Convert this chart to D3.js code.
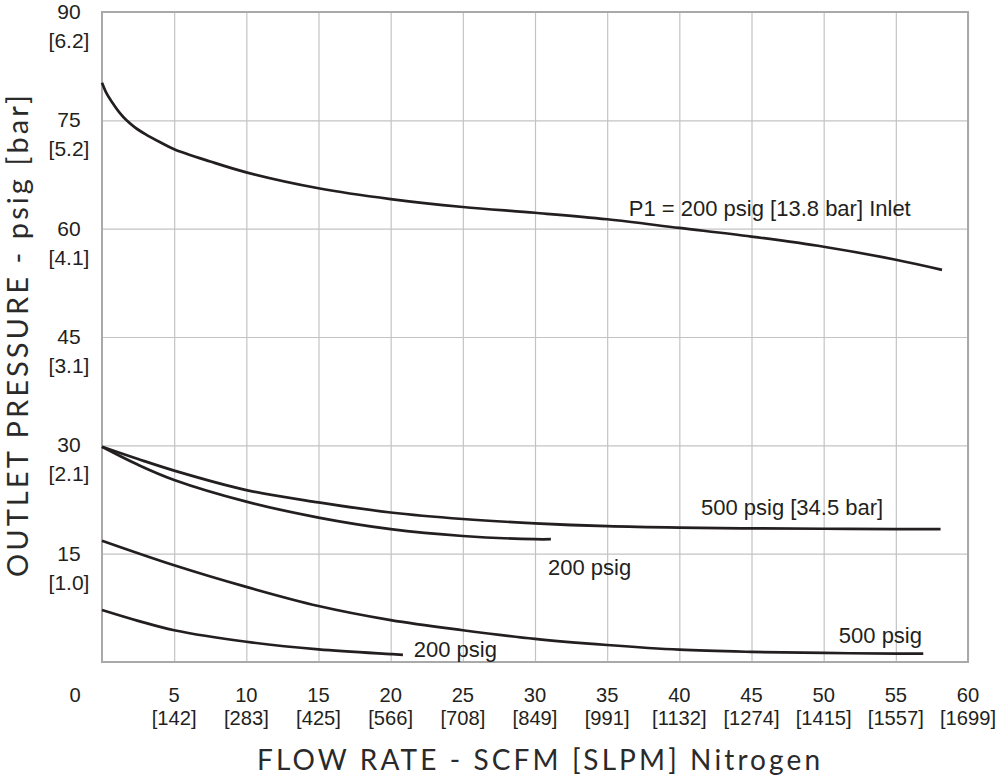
<!DOCTYPE html>
<html>
<head>
<meta charset="utf-8">
<script src="https://cdn.jsdelivr.net/npm/d3@7/dist/d3.min.js"></script>
<style>
    body { margin: 0; background: #fff; }
    svg text { font-family: "Liberation Sans", Arial, sans-serif; fill: #231f20; }
    svg text.title { font-family: Lato, "Open Sans", sans-serif; font-weight: 400; fill: #2a2a2a; }
</style>
</head>
<body>
<svg id="chart" width="998" height="778"></svg>
<script>

// Axis ticks
var xTicks = [5, 10, 15, 20, 25, 30, 35, 40, 45, 50, 55, 60];
var xTickSub = ["[142]", "[283]", "[425]", "[566]", "[708]", "[849]", "[991]", "[1132]", "[1274]", "[1415]", "[1557]", "[1699]"];
var yTicks = [15, 30, 45, 60, 75, 90];
var yTickSub = ["[1.0]", "[2.1]", "[3.1]", "[4.1]", "[5.2]", "[6.2]"];

// Curves: [flow SCFM, outlet psig]
var inlet200Top = [[0, 80.2], [0.3, 78.8], [0.7, 77.5], [1.2, 76.1], [1.7, 75.0], [2.3, 74.0], [3, 73.1], [4, 72.0], [5, 71.0], [7.5, 69.3], [10, 67.8], [15, 65.6], [20, 64.1], [25, 63.0], [30, 62.2], [35, 61.3], [40, 60.1], [45, 58.9], [50, 57.5], [55, 55.7], [58.2, 54.3]];
var inlet500Mid = [[0, 29.8], [2.5, 28.1], [5, 26.5], [10, 23.8], [15, 22.1], [20, 20.7], [25, 19.8], [30, 19.2], [35, 18.8], [40, 18.6], [45, 18.5], [50, 18.45], [55, 18.4], [58.1, 18.4]];
var inlet200Mid = [[0, 29.8], [2.5, 27.3], [5, 25.2], [10, 22.2], [15, 20.0], [20, 18.4], [25, 17.45], [30, 17.0], [31.1, 17.0]];
var inlet500Low = [[0, 16.8], [5, 13.4], [10, 10.4], [15, 7.75], [20, 5.8], [25, 4.4], [30, 3.2], [35, 2.35], [40, 1.7], [45, 1.4], [50, 1.25], [55, 1.15], [56.9, 1.15]];
var inlet200Low = [[0, 7.2], [2.5, 5.7], [5, 4.4], [10, 2.8], [15, 1.75], [20, 1.1], [20.85, 1.0]];

var curves = [inlet200Top, inlet500Mid, inlet200Mid, inlet500Low, inlet200Low];

// Curve labels: text, flow, psig (baseline)
var labelText = ["P1 = 200 psig [13.8 bar] Inlet", "500 psig [34.5 bar]", "200 psig", "500 psig", "200 psig"];
var labelFlow = [36.5, 41.5, 30.9, 51.05, 21.6];
var labelPsig = [61.75, 20.35, 12.05, 2.63, 0.7];

// Dimensions
var margin = {top: 12, right: 30, bottom: 116, left: 102};
var width = 998 - margin.left - margin.right;
var height = 778 - margin.top - margin.bottom;

//Axis
var x = d3.scaleLinear().domain([0, 60]).range([0, width]);
var y = d3.scaleLinear().domain([0, 90]).range([height, 0]);

var svg = d3.select("#chart");
var g = svg.append("g")
    .attr("transform", "translate(" + margin.left + "," + margin.top + ")");

// Grid
var xGrid = g.append("g")
    .attr("class", "x-grid")
    .attr("transform", "translate(0," + height + ")")
    .call(d3.axisBottom(x).tickValues(xTicks).tickSize(-height).tickFormat(""));

var yGrid = g.append("g")
    .attr("class", "y-grid")
    .call(d3.axisLeft(y).tickValues(yTicks).tickSize(-width).tickFormat(""));

g.selectAll(".x-grid, .y-grid").select(".domain").remove();
g.selectAll(".x-grid line, .y-grid line")
    .attr("stroke", "#c3c3c3")
    .attr("stroke-width", 1.2);

// Frame
g.append("rect")
    .attr("x", 0)
    .attr("y", 0)
    .attr("width", width)
    .attr("height", height)
    .attr("fill", "none")
    .attr("stroke", "#a9a9a9")
    .attr("stroke-width", 2);

// Curves
var line = d3.line()
    .x(function(d) { return x(d[0]); })
    .y(function(d) { return y(d[1]); })
    .curve(d3.curveCatmullRom.alpha(0.5));

g.selectAll("path.curve")
    .data(curves)
    .enter()
    .append("path")
    .attr("class", "curve")
    .attr("d", line)
    .attr("fill", "none")
    .attr("stroke", "#231f20")
    .attr("stroke-width", 2.7);

// Curve labels
g.selectAll("text.curve-label")
    .data(labelText)
    .enter()
    .append("text")
    .attr("class", "curve-label")
    .attr("x", function(d, i) { return x(labelFlow[i]); })
    .attr("y", function(d, i) { return y(labelPsig[i]); })
    .style("font-size", "22px")
    .text(function(d) { return d; });

// X tick labels
var xLabels = g.selectAll("g.x-label")
    .data(xTicks)
    .enter()
    .append("g")
    .attr("class", "x-label")
    .attr("transform", function(d) { return "translate(" + x(d) + "," + (height + 40) + ") scale(0.96,1)"; });

xLabels.append("text")
    .attr("text-anchor", "middle")
    .style("font-size", "21px")
    .text(function(d) { return d; });

xLabels.append("text")
    .attr("text-anchor", "middle")
    .attr("y", 23)
    .style("font-size", "21px")
    .text(function(d, i) { return xTickSub[i]; });

// Origin label
g.append("text")
    .attr("text-anchor", "middle")
    .attr("transform", "translate(" + (x(0) - 27) + "," + (height + 40) + ") scale(0.96,1)")
    .style("font-size", "21px")
    .text("0");

// Y tick labels
var yLabels = g.selectAll("g.y-label")
    .data(yTicks)
    .enter()
    .append("g")
    .attr("class", "y-label")
    .attr("transform", function(d) { return "translate(-33," + y(d) + ")"; });

yLabels.append("text")
    .attr("text-anchor", "middle")
    .attr("y", 7)
    .style("font-size", "21px")
    .text(function(d) { return d; });

yLabels.append("text")
    .attr("text-anchor", "middle")
    .attr("y", 36)
    .style("font-size", "21px")
    .text(function(d, i) { return yTickSub[i]; });

// Axis titles
svg.append("text")
    .attr("class", "title")
    .attr("x", 257)
    .attr("y", 770)
    .attr("textLength", 563)
    .attr("lengthAdjust", "spacing")
    .style("font-size", "28px")
    .text("FLOW RATE - SCFM [SLPM] Nitrogen");

svg.append("text")
    .attr("class", "title")
    .attr("transform", "translate(28,577) rotate(-90)")
    .attr("textLength", 482)
    .attr("lengthAdjust", "spacing")
    .style("font-size", "29px")
    .text("OUTLET PRESSURE - psig [bar]");

</script>
</body>
</html>
